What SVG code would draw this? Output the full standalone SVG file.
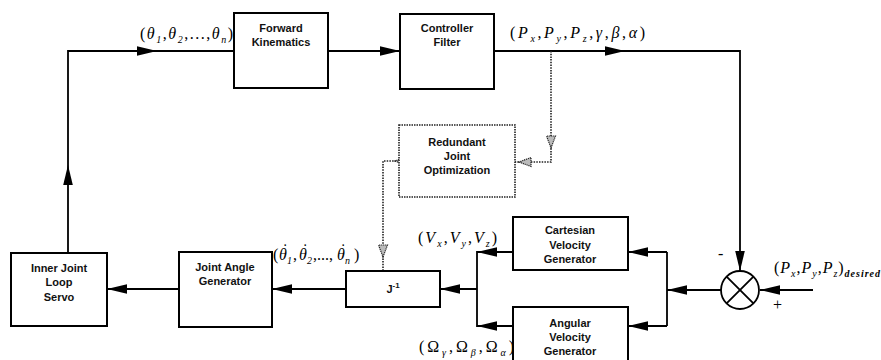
<svg xmlns="http://www.w3.org/2000/svg" width="881" height="360" viewBox="0 0 881 360">
<style>
.box{fill:#fff;stroke:#000;stroke-width:2}
.dbox{fill:#fff;stroke:#222;stroke-width:1.6;stroke-dasharray:1.5 1}
.lbl{font-family:"Liberation Sans",Arial,sans-serif;font-size:11px;font-weight:bold;text-anchor:middle;fill:#111}
.ln{fill:none;stroke:#000;stroke-width:1.8}
.dl{fill:none;stroke:#222;stroke-width:1.6;stroke-dasharray:1.5 1.2}
.m{font-family:"Liberation Serif","Times New Roman",serif;font-size:16px;fill:#000}
.i{font-style:italic}
.s{font-size:10px;font-style:italic}
.hat{fill:#bbb;stroke:#222;stroke-width:1.2;stroke-dasharray:1.2 0.8}
</style>
<defs>
<path id="ah" d="M0,0 L-20,-4.8 L-20,4.8 Z" fill="#000"/>
<path id="hh" d="M0,0 L-12,-4.5 L-12,4.5 Z" class="hat"/>
</defs>

<g id="connectors">
<path class="ln" d="M68,253 V51 H234"/>
<use href="#ah" transform="translate(68,165) rotate(-90)"/>
<use href="#ah" transform="translate(157,51)"/>
<path class="ln" d="M328,51 H400"/>
<use href="#ah" transform="translate(400,51)"/>
<path class="ln" d="M494,51 H740 V271"/>
<use href="#ah" transform="translate(625,51)"/>
<use href="#ah" transform="translate(740,271) rotate(90)"/>
<path class="ln" d="M813,290 H760"/>
<use href="#ah" transform="translate(760,290) rotate(180)"/>
<path class="ln" d="M721,290 H667 M667,252 V326 M667,252 H628 M667,326 H628"/>
<use href="#ah" transform="translate(667,290) rotate(180)"/>
<use href="#ah" transform="translate(628,252) rotate(180)"/>
<use href="#ah" transform="translate(628,326) rotate(180)"/>
<path class="ln" d="M513,252 H477 V326 H513 M477,289 H440"/>
<use href="#ah" transform="translate(477,252) rotate(180)"/>
<use href="#ah" transform="translate(477,326) rotate(180)"/>
<use href="#ah" transform="translate(440,289) rotate(180)"/>
<path class="ln" d="M346,289 H272"/>
<use href="#ah" transform="translate(272,289) rotate(180)"/>
<path class="ln" d="M179,289 H107"/>
<use href="#ah" transform="translate(107,289) rotate(180)"/>
<path class="dl" d="M551,51 V162 H515"/>
<use href="#hh" transform="translate(551,148) rotate(90)"/>
<use href="#hh" transform="translate(519,162) rotate(180)"/>
<path class="dl" d="M399,161 H383 V271"/>
<use href="#hh" transform="translate(395,161) rotate(180)"/>
<use href="#hh" transform="translate(383,257) rotate(90)"/>
</g>

<g id="forward-kinematics">
<rect class="box" x="234" y="13" width="94" height="75"/>
<text class="lbl" x="281" y="32">Forward</text>
<text class="lbl" x="281" y="46">Kinematics</text>
</g>
<g id="controller-filter">
<rect class="box" x="400" y="14" width="94" height="75"/>
<text class="lbl" x="447" y="32">Controller</text>
<text class="lbl" x="447" y="46">Filter</text>
</g>
<g id="redundant-joint-optimization">
<rect class="dbox" x="399" y="125" width="116" height="72"/>
<text class="lbl" x="457" y="146">Redundant</text>
<text class="lbl" x="457" y="160">Joint</text>
<text class="lbl" x="457" y="174">Optimization</text>
</g>
<g id="cartesian-velocity-generator">
<rect class="box" x="513" y="217" width="115" height="53"/>
<text class="lbl" x="570" y="234">Cartesian</text>
<text class="lbl" x="570" y="249">Velocity</text>
<text class="lbl" x="570" y="263">Generator</text>
</g>
<g id="angular-velocity-generator">
<rect class="box" x="513" y="307" width="115" height="60"/>
<text class="lbl" x="570" y="327">Angular</text>
<text class="lbl" x="570" y="341">Velocity</text>
<text class="lbl" x="570" y="355">Generator</text>
</g>
<g id="j-inverse">
<rect class="box" x="346" y="271" width="94" height="36"/>
<text class="lbl" x="393" y="293">J<tspan font-size="8" dy="-5">-1</tspan></text>
</g>
<g id="joint-angle-generator">
<rect class="box" x="179" y="252" width="93" height="75"/>
<text class="lbl" x="225" y="271">Joint Angle</text>
<text class="lbl" x="225" y="285">Generator</text>
</g>
<g id="inner-joint-loop-servo">
<rect class="box" x="11" y="253" width="96" height="73"/>
<text class="lbl" x="59" y="272">Inner Joint</text>
<text class="lbl" x="59" y="286">Loop</text>
<text class="lbl" x="59" y="301">Servo</text>
</g>
<g id="summing-junction">
<circle cx="740" cy="290" r="19" fill="#fff" stroke="#000" stroke-width="1.8"/>
<path class="ln" d="M726.6,276.6 L753.4,303.4 M753.4,276.6 L726.6,303.4"/>
<text class="m" x="718" y="259" font-size="15">-</text>
<text class="m" x="773" y="310" font-size="14">+</text>
</g>

<g id="labels">
<text class="m" x="140" y="39" textLength="93" lengthAdjust="spacing">(<tspan class="i">θ</tspan><tspan class="s" dy="4">1</tspan><tspan dy="-4">,</tspan><tspan class="i">θ</tspan><tspan class="s" dy="4">2</tspan><tspan dy="-4">,...,</tspan><tspan class="i">θ</tspan><tspan class="s" dy="4">n</tspan><tspan dy="-4">)</tspan></text>
<text class="m" x="510" y="38" textLength="135" lengthAdjust="spacing">(<tspan class="i">P</tspan><tspan class="s" dy="4">x</tspan><tspan dy="-4">,</tspan><tspan class="i">P</tspan><tspan class="s" dy="4">y</tspan><tspan dy="-4">,</tspan><tspan class="i">P</tspan><tspan class="s" dy="4">z</tspan><tspan dy="-4">,</tspan><tspan class="i">γ</tspan>,<tspan class="i">β</tspan>,<tspan class="i">α</tspan>)</text>
<text class="m" y="260"><tspan x="273">(</tspan><tspan class="i" x="279">θ</tspan><tspan class="s" x="287" y="264">1</tspan><tspan x="293" y="260">,</tspan><tspan class="i" x="299">θ</tspan><tspan class="s" x="307" y="264">2</tspan><tspan x="313" y="260">,...,</tspan><tspan class="i" x="337">θ</tspan><tspan class="s" x="345" y="264">n</tspan><tspan x="354" y="260">)</tspan><tspan x="282.5" y="255">˙</tspan><tspan x="302.5" y="255">˙</tspan><tspan x="340.5" y="255">˙</tspan></text>
<text class="m" x="418" y="243" textLength="79" lengthAdjust="spacing">(<tspan class="i">V</tspan><tspan class="s" dy="4">x</tspan><tspan dy="-4">,</tspan><tspan class="i">V</tspan><tspan class="s" dy="4">y</tspan><tspan dy="-4">,</tspan><tspan class="i">V</tspan><tspan class="s" dy="4">z</tspan><tspan dy="-4">)</tspan></text>
<text class="m" x="419" y="352" textLength="95" lengthAdjust="spacing">(Ω<tspan class="s" dy="4">γ</tspan><tspan dy="-4">,Ω</tspan><tspan class="s" dy="4">β</tspan><tspan dy="-4">,Ω</tspan><tspan class="s" dy="4">α</tspan><tspan dy="-4">)</tspan></text>
<text class="m" x="774" y="273" textLength="106" lengthAdjust="spacing">(<tspan class="i">P</tspan><tspan class="s" dy="4">x</tspan><tspan dy="-4">,</tspan><tspan class="i">P</tspan><tspan class="s" dy="4">y</tspan><tspan dy="-4">,</tspan><tspan class="i">P</tspan><tspan class="s" dy="4">z</tspan><tspan dy="-4">)</tspan><tspan class="s" font-size="9" font-weight="bold" dy="4">desired</tspan></text>
</g>
</svg>
